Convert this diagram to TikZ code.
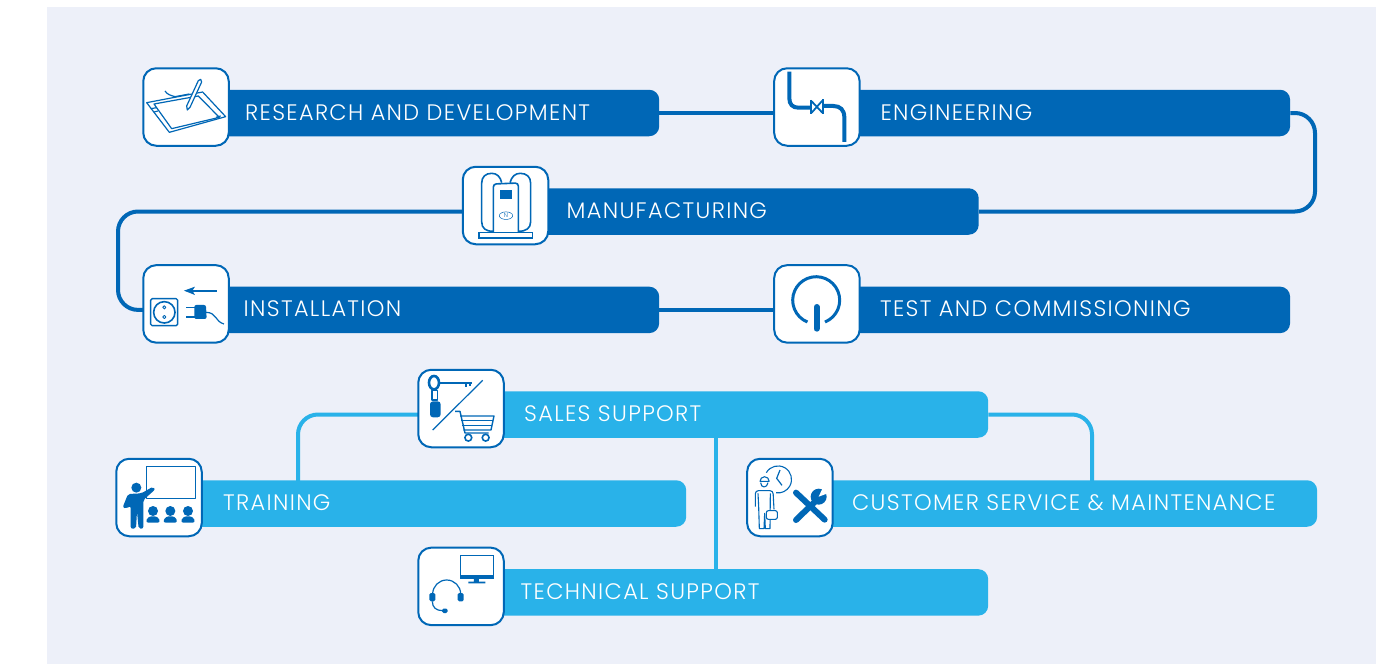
\documentclass[tikz,border=0pt]{standalone}
\usepackage{fontspec}
\setmainfont{Poppins Light}[LetterSpace=6]
\usetikzlibrary{positioning,backgrounds}
\definecolor{panelblue}{HTML}{EDF0F9}
\definecolor{darkblue}{HTML}{0067B6}
\definecolor{lightblue}{HTML}{29B2E9}
\tikzset{
    bar/.style n args={2}{rounded corners=10pt,minimum height=46.5pt,minimum width=#1,text width=#1,
        inner xsep=0pt,align=left,text=white,text height=15pt,text depth=1pt,anchor=west,
        font=\fontsize{22.4}{26}\selectfont,execute at begin node={\hspace*{#2}}},
    iconbox/.style={draw=darkblue,fill=white,line width=2pt,rounded corners=13pt,
        minimum width=85.5pt,minimum height=77.5pt,inner sep=0pt},
    link/.style={line width=4pt,rounded corners=20pt},
    zoomed/.style={shift={#1},x=.3333pt,y=-.3333pt},
    thin icon/.style={draw=darkblue,line width=1.2pt,line join=round},
    thick icon/.style={draw=darkblue,line width=2.6pt},
    solid icon/.style={fill=darkblue,draw=none},
}
\begin{document}
\begin{tikzpicture}[x=1pt,y=-1pt]
    \useasboundingbox (0,0) rectangle (1381,664);
    \begin{pgfonlayer}{background}
        \fill[panelblue] (47,6.5) rectangle (1375.7,664);
    \end{pgfonlayer}

    % production chain
    \node[bar={473pt}{59pt},fill=darkblue] (research) at (186,113) {RESEARCH AND DEVELOPMENT};
    \node[bar={473pt}{63.5pt},fill=darkblue,right=157.5pt of research] (engineering) {ENGINEERING};
    \node[bar={473pt}{61pt},fill=darkblue] (manufacturing) at (505.5,211.5) {MANUFACTURING};
    \node[bar={473pt}{57.5pt},fill=darkblue,below=150pt of research] (installation) {INSTALLATION};
    \node[bar={473pt}{63pt},fill=darkblue,right=157.5pt of installation] (test) {TEST AND COMMISSIONING};

    % support
    \node[bar={527pt}{63pt},fill=lightblue] (sales) at (461,414.5) {SALES SUPPORT};
    \node[bar={527pt}{64pt},fill=lightblue] (training) at (159,503.5) {TRAINING};
    \node[bar={527pt}{62pt},fill=lightblue,right=103.5pt of training] (service) {CUSTOMER SERVICE \& MAINTENANCE};
    \node[bar={527pt}{59.5pt},fill=lightblue,below=131pt of sales] (technical) {TECHNICAL SUPPORT};

    % icon frames
    \node[iconbox,yshift=6pt] (researchbox) at (research.west) {};
    \node[iconbox,yshift=6pt] (engineeringbox) at (engineering.west) {};
    \node[iconbox,yshift=6pt] (manufacturingbox) at (manufacturing.west) {};
    \node[iconbox,yshift=6pt] (installationbox) at (installation.west) {};
    \node[iconbox,yshift=6pt] (testbox) at (test.west) {};
    \node[iconbox,yshift=6pt] (salesbox) at (sales.west) {};
    \node[iconbox,yshift=6pt] (trainingbox) at (training.west) {};
    \node[iconbox,yshift=6pt] (servicebox) at (service.west) {};
    \node[iconbox,yshift=6pt] (technicalbox) at (technical.west) {};

    \coordinate (rightturn) at (1315,160);
    \coordinate (leftturn) at (118,260);
    \coordinate (trainingjoin) at (298,490);
    \coordinate (servicejoin) at (1092,490);
    \coordinate (technicaljoin) at (716,500);
    \begin{pgfonlayer}{background}
        \draw[link,darkblue] (research) -- (engineering);
        \draw[link,darkblue] (engineering.east) -| (rightturn) |- (manufacturing.east);
        \draw[link,darkblue] (manufacturing.west) -| (leftturn) |- (installation.west);
        \draw[link,darkblue] (installation) -- (test);
        \draw[link,lightblue] (sales.west) -| (trainingjoin);
        \draw[link,lightblue] (sales.east) -| (servicejoin);
        \draw[link,lightblue] (sales.south -| technicaljoin) -- (technical.north -| technicaljoin);
    \end{pgfonlayer}

    % tablet
    \begin{scope}[zoomed={(130,60)}]
        \draw[thin icon] (50,128) -- (218,96) -- (287,170) -- (118,217) -- cycle;
        \draw[thin icon] (72,132) -- (205,108) -- (268,172) -- (125,206) -- cycle;
        \draw[thin icon] (62,146) -- (80,143) (72,156) -- (84,153) (258,172) -- (272,168);
        \draw[thin icon] (105,93) .. controls (112,104) and (122,106) .. (135,110) -- (178,102);
        \draw[thin icon,fill=white] (172,150) -- (170,138) -- (205,62) -- (212,58) -- (215,66) -- (180,142) -- cycle;
    \end{scope}

    % pipe and valve
    \begin{scope}[zoomed={(765,60)}]
        \draw[thick icon,line width=4pt] (73,35) -- (73,115) .. controls (73,133) and (83,143) .. (100,143) -- (136,143);
        \draw[thick icon,line width=4pt] (176,138) -- (205,138) .. controls (226,138) and (238,150) .. (238,172) -- (238,246);
        \draw[thick icon,line width=1.8pt] (137,120) -- (137,162) (175,118) -- (175,162);
        \draw[thick icon,line width=1.8pt] (140,124) -- (172,158) (172,122) -- (140,158);
    \end{scope}

    % generator
    \begin{scope}[zoomed={(455,160)}]
        \draw[thick icon,line width=1.6pt] (115,214) .. controls (92,214) and (80,205) .. (80,185) -- (80,70) .. controls (80,50) and (92,40) .. (110,40) .. controls (126,40) and (136,50) .. (140,68);
        \draw[thick icon,line width=1.6pt] (190,214) .. controls (213,214) and (227,205) .. (227,185) -- (227,70) .. controls (227,50) and (214,40) .. (196,40) .. controls (180,40) and (170,50) .. (165,68);
        \draw[thick icon,line width=1.6pt,fill=white,rounded corners=3pt] (115,217) -- (115,72) -- (190,69) -- (190,217);
        \draw[thick icon,line width=1.6pt,fill=white] (72,217) rectangle (233,234);
        \fill[solid icon] (134,90) rectangle (172,117);
        \draw[thin icon,line width=.5pt] (153,167) ellipse [x radius=6.7pt,y radius=3.8pt];
        \node[text=darkblue,inner sep=0pt,font=\fontsize{6}{6}\selectfont] (generatorletter) at (153,167) {N};
    \end{scope}

    % socket and plug
    \begin{scope}[zoomed={(105,255)}]
        \draw[thin icon,line width=1.4pt,rounded corners=1.5pt] (137,131) rectangle (218,212);
        \draw[thick icon,line width=1.6pt] (178,172) circle [radius=10.7pt];
        \draw[thin icon,line width=.9pt] (178,157) circle [radius=1.6pt] (178,186) circle [radius=1.6pt];
        \draw[thick icon,line width=1.8pt] (335,107) -- (255,107);
        \fill[solid icon] (237,107) -- (270,95) -- (262,107) -- (270,120) -- cycle;
        \fill[solid icon,rounded corners=2pt] (268,150) -- (303,150) -- (305,192) -- (268,192) -- cycle;
        \draw[thick icon,line width=1.6pt] (244,158) -- (270,158) (244,186) -- (270,186);
        \draw[thin icon] (303,172) .. controls (335,172) and (330,200) .. (357,207);
    \end{scope}

    % power button
    \begin{scope}[zoomed={(765,258)}]
        \draw[thick icon,line width=3pt] (180,192) arc [start angle=-68,end angle=248,radius=23.5pt];
        \draw[thick icon,line width=6pt,line cap=round] (155,147) -- (155,212);
    \end{scope}

    % key and cart
    \begin{scope}[zoomed={(410,362)}]
        \draw[thick icon,line width=2.6pt] (72,62) ellipse [x radius=5pt,y radius=6.7pt];
        \draw[thick icon,line width=2.2pt] (90,62) -- (186,62);
        \draw[thick icon,line width=1.8pt] (168,62) -- (168,76) (180,62) -- (180,72);
        \draw[thin icon,line width=1.4pt] (66,86) rectangle (82,114);
        \fill[solid icon,rounded corners=3pt] (60,118) rectangle (92,166);
        \draw[thin icon] (68,204) -- (218,55);
        \draw[thin icon,line width=1.4pt] (135,148) -- (150,148) -- (165,213) -- (236,213);
        \draw[thin icon,line width=1.4pt] (150,162) -- (252,162) -- (243,204) -- (160,204);
        \draw[thin icon,line width=1.4pt] (153,176) -- (249,176) (156,190) -- (246,190);
        \draw[thick icon,line width=1.6pt] (175,227) circle [radius=3.4pt] (227,227) circle [radius=3.4pt];
    \end{scope}

    % teacher and class
    \begin{scope}[zoomed={(108,450)}]
        \draw[thin icon,line width=1.3pt] (115,50) rectangle (262,145);
        \fill[solid icon] (85,113) circle [radius=5pt];
        \fill[solid icon,rounded corners=2pt] (44,172) -- (60,132) -- (100,130) -- (135,110) -- (142,118) -- (106,150) -- (106,236) -- (92,236) -- (87,185) -- (84,236) -- (68,236) -- (68,168) -- (54,176) -- cycle;
        \foreach \seat in {135,187,240} {
            \fill[solid icon] (\seat,183) circle [radius=5pt];
            \fill[solid icon,rounded corners=3pt] (\seat-23,218) -- (\seat-14,199) -- (\seat+14,199) -- (\seat+23,218) -- cycle;
        }
    \end{scope}

    % service man and tools
    \begin{scope}[zoomed={(738,450)}]
        \draw[thin icon,line width=1.1pt] (85,68) arc [start angle=150,end angle=-98,radius=13.5pt];
        \draw[thin icon,line width=1.2pt] (126,60) -- (116,85) -- (132,106);
        \draw[thin icon,line width=1.1pt] (66,94) arc [start angle=180,end angle=0,radius=4.6pt] -- cycle;
        \draw[thin icon,line width=1.1pt] (68,98) .. controls (68,115) and (88,115) .. (90,98);
        \draw[thin icon,line width=1.1pt,rounded corners=3pt] (52,170) -- (52,122) -- (105,122) -- (108,178);
        \draw[thin icon,line width=1.1pt] (60,130) -- (62,170) -- (64,236) -- (78,236) -- (80,190) -- (82,236) -- (96,236) -- (97,130);
        \draw[thin icon,line width=1.1pt,fill=white,rounded corners=2pt] (85,182) rectangle (118,208);
        \draw[thick icon,line width=6pt,line cap=round] (174,128) -- (260,209);
        \draw[thick icon,line width=6pt,line cap=round] (174,210) -- (236,150);
        \fill[solid icon] (242,140) circle [radius=8pt];
        \fill[white] (242,140) -- (255,112) -- (275,128) -- cycle;
    \end{scope}

    % monitor and headset
    \begin{scope}[zoomed={(410,538)}]
        \draw[thick icon,line width=1.4pt] (152,52) rectangle (250,120);
        \fill[solid icon] (152,110) rectangle (250,122);
        \fill[solid icon] (192,122) rectangle (207,132) (175,131) rectangle (226,136);
        \draw[thin icon] (68,168) arc [start angle=180,end angle=0,radius=14pt];
        \fill[solid icon,rounded corners=1.5pt] (58,165) rectangle (76,190) (143,165) rectangle (161,190);
        \draw[thin icon] (67,190) .. controls (67,208) and (78,218) .. (98,218);
        \fill[solid icon,rounded corners=1.5pt] (96,212) rectangle (113,225);
    \end{scope}
\end{tikzpicture}
\end{document}
